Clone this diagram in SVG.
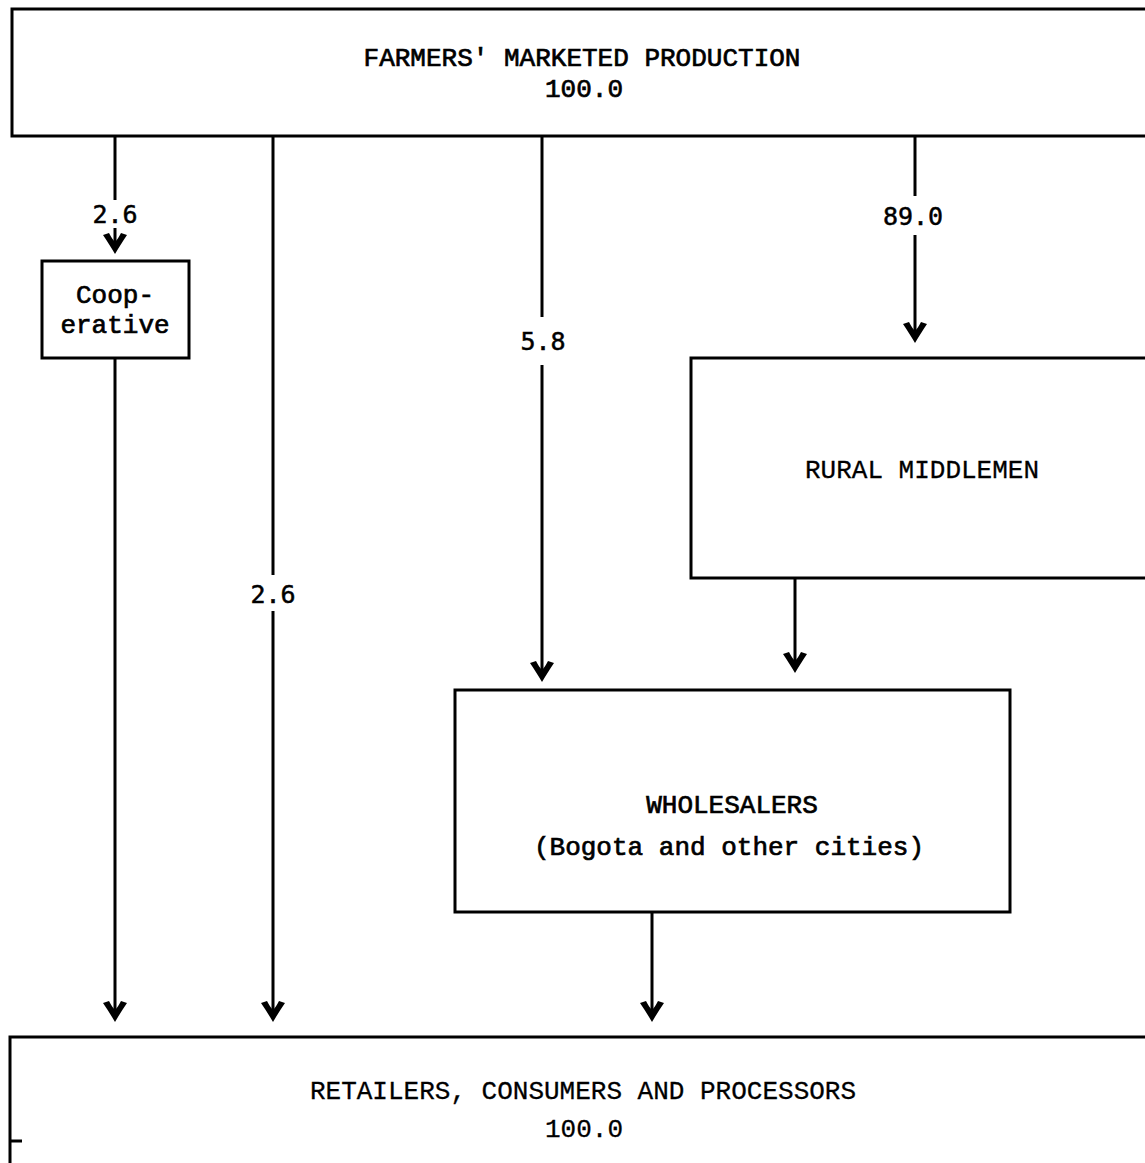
<svg xmlns="http://www.w3.org/2000/svg" xmlns:xlink="http://www.w3.org/1999/xlink" width="1145" height="1163" viewBox="0 0 1145 1163">
  <style>
    .box { fill: #ffffff; stroke: #000000; stroke-width: 3; }
    .edge { fill: none; stroke: #000000; stroke-width: 3; }
    .lbl { font-family: "Liberation Mono", "Courier New", monospace; font-size: 26px; fill: #000000; text-anchor: middle; }
    .heavy { stroke: #000000; stroke-width: 0.7; }
    .light { stroke: #000000; stroke-width: 0.3; }
    .num { font-family: "DejaVu Sans Mono", "Liberation Mono", monospace; font-size: 25px; fill: #000000; text-anchor: middle; stroke: #000000; stroke-width: 0.5; }
  </style>
  <defs>
    <!-- barbed arrowhead, tip at origin, pointing down -->
    <path id="ah" d="M0,0 C-4,-7 -8,-13 -12,-19 L-6,-21 C-4,-17 -2,-14 0,-12 C2,-14 4,-17 6,-21 L12,-19 C8,-13 4,-7 0,0 Z" fill="#000000"/>
  </defs>
  <rect width="1145" height="1163" fill="#ffffff"/>

  <g id="farmers">
    <rect class="box" x="12" y="9" width="1145" height="127"/>
    <text class="lbl heavy" x="582" y="66">FARMERS' MARKETED PRODUCTION</text>
    <text class="lbl heavy" x="584" y="97">100.0</text>
  </g>

  <g id="cooperative">
    <rect class="box" x="42" y="261" width="147" height="97"/>
    <text class="lbl heavy" x="115" y="303">Coop-</text>
    <text class="lbl heavy" x="115" y="333">erative</text>
  </g>

  <g id="rural-middlemen">
    <rect class="box" x="691" y="358" width="470" height="220"/>
    <text class="lbl light" x="922" y="478">RURAL MIDDLEMEN</text>
  </g>

  <g id="wholesalers">
    <rect class="box" x="455" y="690" width="555" height="222"/>
    <text class="lbl heavy" x="732" y="813" stroke-width="0.8">WHOLESALERS</text>
    <text class="lbl heavy" x="729" y="855" stroke-width="0.8">(Bogota and other cities)</text>
  </g>

  <g id="retailers">
    <path class="edge" d="M10,1163 L10,1037 L1150,1037"/>
    <path class="edge" d="M10,1141 L22,1141"/>
    <text class="lbl light" x="583" y="1099">RETAILERS, CONSUMERS AND PROCESSORS</text>
    <text class="lbl light" x="584" y="1137">100.0</text>
  </g>

  <g id="connectors">
    <!-- farmers to cooperative -->
    <line class="edge" x1="115" y1="136" x2="115" y2="200"/>
    <line class="edge" x1="115" y1="228" x2="115" y2="247"/>
    <use xlink:href="#ah" x="115" y="254"/>
    <text class="num" x="115" y="223">2.6</text>

    <!-- cooperative to retailers -->
    <line class="edge" x1="115" y1="358" x2="115" y2="1015"/>
    <use xlink:href="#ah" x="115" y="1022"/>

    <!-- farmers direct to retailers -->
    <line class="edge" x1="273" y1="136" x2="273" y2="575"/>
    <line class="edge" x1="273" y1="611" x2="273" y2="1015"/>
    <use xlink:href="#ah" x="273" y="1022"/>
    <text class="num" x="273" y="603">2.6</text>

    <!-- farmers to wholesalers -->
    <line class="edge" x1="542" y1="136" x2="542" y2="317"/>
    <line class="edge" x1="542" y1="365" x2="542" y2="675"/>
    <use xlink:href="#ah" x="542" y="682"/>
    <text class="num" x="543" y="350">5.8</text>

    <!-- farmers to rural middlemen -->
    <line class="edge" x1="915" y1="136" x2="915" y2="196"/>
    <line class="edge" x1="915" y1="235" x2="915" y2="336"/>
    <use xlink:href="#ah" x="915" y="343"/>
    <text class="num" x="913" y="225">89.0</text>

    <!-- rural middlemen to wholesalers -->
    <line class="edge" x1="795" y1="578" x2="795" y2="666"/>
    <use xlink:href="#ah" x="795" y="673"/>

    <!-- wholesalers to retailers -->
    <line class="edge" x1="652" y1="912" x2="652" y2="1015"/>
    <use xlink:href="#ah" x="652" y="1022"/>
  </g>
</svg>
